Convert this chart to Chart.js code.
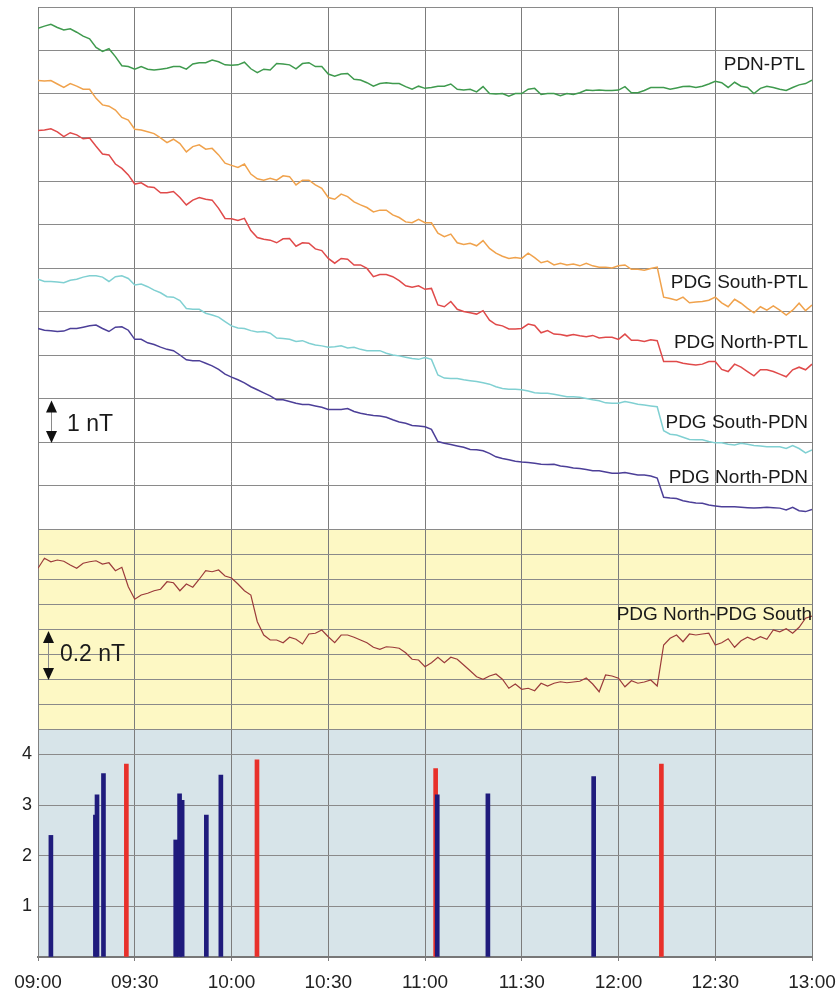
<!DOCTYPE html>
<html><head><meta charset="utf-8">
<script src="https://cdn.jsdelivr.net/npm/chart.js@4/dist/chart.umd.min.js"></script>
<style>html,body{margin:0;padding:0;background:#fff;}canvas{display:block;}</style>
</head><body>
<canvas id="c" width="840" height="992"></canvas>
<script>
// minutes after 09:00
const minutes = [0,2,4,6,8,10,12,14,16,18,20,22,24,26,28,30,32,34,36,38,40,42,44,46,48,50,52,54,56,58,
60,62,64,66,68,70,72,74,76,78,80,82,84,86,88,90,92,94,96,98,100,102,104,106,108,110,112,114,116,118,
120,122,124,126,128,130,132,134,136,138,140,142,144,146,148,150,152,154,156,158,160,162,164,166,168,170,172,174,176,178,
180,182,184,186,188,190,192,194,196,198,200,202,204,206,208,210,212,214,216,218,220,222,224,226,228,230,232,234,236,238,240];
const timeLabels = ['09:00','09:30','10:00','10:30','11:00','11:30','12:00','12:30','13:00'];

const pdnPtl = [11.51,11.56,11.60,11.53,11.47,11.50,11.42,11.33,11.27,11.07,
10.98,11.04,10.86,10.65,10.63,10.57,10.63,10.57,10.55,10.57,
10.59,10.63,10.63,10.57,10.69,10.72,10.72,10.78,10.74,10.67,
10.66,10.67,10.73,10.58,10.49,10.57,10.55,10.70,10.69,10.67,
10.58,10.70,10.72,10.63,10.63,10.46,10.41,10.46,10.47,10.34,
10.32,10.26,10.18,10.24,10.26,10.24,10.24,10.17,10.11,10.18,
10.13,10.15,10.18,10.18,10.23,10.11,10.09,10.11,10.05,10.17,
10.01,10.00,10.01,9.95,10.01,10.01,10.11,10.13,9.99,10.01,
10.01,9.96,10.01,9.99,10.03,10.09,10.08,10.09,10.08,10.08,
10.09,10.17,10.03,10.03,10.08,10.15,10.15,10.15,10.11,10.14,
10.17,10.18,10.15,10.18,10.23,10.29,10.26,10.15,10.27,10.18,
10.15,10.01,10.13,10.18,10.15,10.11,10.08,10.15,10.21,10.24,
10.32];
const pdgSouthPtl = [10.31,10.30,10.31,10.23,10.15,10.24,10.18,10.11,10.11,9.90,
9.75,9.72,9.63,9.46,9.40,9.19,9.17,9.13,9.09,8.99,
8.88,8.96,8.86,8.67,8.79,8.83,8.73,8.75,8.60,8.41,
8.36,8.31,8.39,8.16,8.05,8.02,8.06,8.02,8.12,8.10,
7.91,8.02,8.02,7.91,7.83,7.62,7.58,7.70,7.64,7.52,
7.45,7.39,7.29,7.33,7.33,7.22,7.16,7.06,7.04,7.12,
7.04,7.04,6.80,6.72,6.78,6.58,6.54,6.57,6.51,6.63,
6.45,6.34,6.27,6.22,6.24,6.22,6.34,6.24,6.12,6.16,
6.07,6.11,6.07,6.09,6.05,6.11,6.05,6.02,6.02,6.00,
6.05,6.07,5.97,5.97,5.95,5.99,6.02,5.33,5.30,5.26,
5.33,5.20,5.22,5.23,5.26,5.33,5.20,5.11,5.28,5.19,
5.07,4.97,5.11,5.03,5.13,5.03,4.92,5.03,5.19,5.02,
5.15];
const pdgNorthPtl = [9.16,9.17,9.20,9.13,9.02,9.11,9.06,8.97,8.99,8.80,
8.62,8.60,8.39,8.29,8.14,7.93,7.96,7.87,7.85,7.73,
7.73,7.76,7.62,7.45,7.56,7.62,7.58,7.56,7.37,7.14,
7.13,7.09,7.14,6.86,6.70,6.66,6.64,6.58,6.67,6.68,
6.50,6.58,6.57,6.44,6.40,6.22,6.11,6.22,6.20,6.07,
6.07,5.99,5.80,5.85,5.85,5.80,5.71,5.59,5.56,5.59,
5.51,5.53,5.15,5.11,5.23,5.05,5.00,4.97,4.94,5.02,
4.80,4.70,4.67,4.60,4.60,4.61,4.71,4.68,4.51,4.56,
4.48,4.47,4.44,4.47,4.44,4.42,4.45,4.39,4.41,4.41,
4.36,4.48,4.34,4.34,4.31,4.35,4.33,3.85,3.85,3.85,
3.81,3.79,3.77,3.79,3.85,3.85,3.67,3.62,3.79,3.72,
3.62,3.52,3.66,3.66,3.62,3.56,3.50,3.66,3.72,3.66,
3.79];
const pdgSouthPdn = [5.74,5.69,5.69,5.68,5.66,5.72,5.74,5.79,5.82,5.82,
5.79,5.69,5.80,5.82,5.76,5.61,5.63,5.57,5.49,5.43,
5.34,5.33,5.25,5.07,5.05,5.05,4.96,4.92,4.87,4.77,
4.67,4.62,4.61,4.56,4.53,4.54,4.50,4.39,4.38,4.36,
4.31,4.33,4.27,4.23,4.21,4.18,4.19,4.21,4.16,4.18,
4.13,4.10,4.10,4.10,4.04,4.00,3.98,3.95,3.92,3.90,
3.94,3.90,3.54,3.47,3.46,3.46,3.43,3.41,3.39,3.36,
3.33,3.27,3.23,3.21,3.21,3.20,3.17,3.13,3.12,3.12,
3.10,3.07,3.04,3.04,3.03,3.00,2.97,2.95,2.90,2.89,
2.89,2.93,2.90,2.87,2.85,2.83,2.81,2.26,2.18,2.16,
2.11,2.06,2.05,2.05,2.01,1.98,1.98,1.95,1.93,1.97,
1.95,1.92,1.91,1.89,1.89,1.89,1.85,1.92,1.85,1.75,
1.82];
const pdgNorthPdn = [4.61,4.57,4.56,4.54,4.55,4.61,4.61,4.64,4.67,4.69,
4.61,4.54,4.64,4.65,4.57,4.36,4.36,4.28,4.24,4.18,
4.13,4.10,4.00,3.89,3.87,3.87,3.81,3.75,3.67,3.56,
3.49,3.43,3.36,3.27,3.20,3.13,3.06,2.97,2.97,2.93,
2.89,2.86,2.86,2.83,2.80,2.75,2.75,2.75,2.77,2.70,
2.66,2.63,2.61,2.60,2.57,2.51,2.46,2.43,2.38,2.37,
2.35,2.29,2.01,1.97,1.94,1.91,1.88,1.83,1.82,1.80,
1.74,1.66,1.62,1.59,1.56,1.54,1.53,1.51,1.49,1.48,
1.49,1.45,1.43,1.40,1.39,1.37,1.34,1.34,1.31,1.28,
1.28,1.30,1.27,1.24,1.24,1.22,1.17,0.73,0.71,0.70,
0.65,0.62,0.60,0.59,0.55,0.53,0.51,0.51,0.51,0.50,
0.49,0.48,0.49,0.50,0.49,0.48,0.44,0.50,0.42,0.40,
0.45];
const pdgNorthPdgSouth = [0.643,0.683,0.669,0.676,0.671,0.656,0.643,0.663,0.669,0.673,
0.660,0.665,0.633,0.647,0.569,0.519,0.536,0.543,0.553,0.559,
0.589,0.585,0.553,0.580,0.567,0.599,0.633,0.629,0.636,0.612,
0.604,0.580,0.553,0.536,0.429,0.376,0.356,0.356,0.345,0.367,
0.359,0.340,0.380,0.383,0.396,0.369,0.345,0.376,0.376,0.367,
0.356,0.345,0.327,0.319,0.329,0.327,0.323,0.305,0.279,0.276,
0.249,0.265,0.287,0.265,0.287,0.279,0.256,0.233,0.209,0.199,
0.212,0.220,0.199,0.163,0.180,0.159,0.163,0.153,0.183,0.172,
0.183,0.189,0.185,0.188,0.191,0.204,0.180,0.149,0.216,0.212,
0.203,0.169,0.193,0.183,0.188,0.196,0.172,0.336,0.363,0.376,
0.349,0.380,0.376,0.380,0.383,0.336,0.345,0.361,0.327,0.353,
0.367,0.356,0.369,0.359,0.396,0.389,0.401,0.383,0.407,0.443,
0.452];

// event bars (bottom panel)
const blueBarTimes  = [4.0, 17.8, 18.3, 20.3, 42.7, 43.9, 44.7, 52.2, 56.7, 123.8, 139.5, 172.3];
const blueBarValues = [2.4, 2.8, 3.2, 3.62, 2.31, 3.22, 3.09, 2.8, 3.59, 3.2, 3.22, 3.56];
const redBarTimes   = [27.4, 67.9, 123.3, 193.3];
const redBarValues  = [3.81, 3.89, 3.72, 3.81];

const FONT = '"Liberation Sans", Arial, Helvetica, sans-serif';

function line(label, vals, color, axis, w) {
  return { type:'line', label, data: minutes.map((m,i)=>({x:m, y:vals[i]})),
    borderColor: color, borderWidth: w, pointRadius: 0, tension: 0,
    xAxisID:'x', yAxisID: axis };
}
function bars(label, ts, vs, color) {
  return { type:'bar', label, data: ts.map((t,i)=>({x:t, y:vs[i]})),
    backgroundColor: color, barThickness: 4, grouped: false,
    xAxisID:'x', yAxisID:'y3' };
}

const panelBg = {
  id:'panelBg',
  beforeDraw(chart, args, opts) {
    const {ctx, chartArea, scales} = chart;
    ctx.save();
    opts.fills.forEach(f => {
      const s = scales[f.axis];
      ctx.fillStyle = f.color;
      ctx.fillRect(chartArea.left, s.top, chartArea.right - chartArea.left, s.bottom - s.top);
    });
    ctx.restore();
  }
};

function arrowHead(ctx, x, y, dir) {
  ctx.beginPath();
  ctx.moveTo(x, y);
  ctx.lineTo(x - 5.5, y + dir * 12);
  ctx.lineTo(x + 5.5, y + dir * 12);
  ctx.closePath();
  ctx.fill();
}

const annot = {
  id:'annot',
  afterDatasetsDraw(chart, args, opts) {
    const {ctx, scales} = chart;
    const xs = scales.x;
    ctx.save();
    ctx.fillStyle = '#1a1a1a';
    ctx.textBaseline = 'middle';
    ctx.textAlign = 'right';
    ctx.font = '19px ' + FONT;
    opts.labels.forEach(l => {
      ctx.fillText(l.text, xs.right - l.dx, scales[l.axis].getPixelForValue(l.v));
    });
    opts.arrows.forEach(a => {
      const s = scales[a.axis];
      const x = Math.round(xs.getPixelForValue(a.t)) + 0.5;
      const y1 = s.getPixelForValue(a.hi), y2 = s.getPixelForValue(a.lo);
      ctx.strokeStyle = '#8a8a8a'; ctx.lineWidth = 1;
      ctx.beginPath(); ctx.moveTo(x, y1 + 10); ctx.lineTo(x, y2 - 10); ctx.stroke();
      ctx.fillStyle = '#111';
      arrowHead(ctx, x, y1 + 2, 1);
      arrowHead(ctx, x, y2 + 1, -1);
      ctx.fillStyle = '#1a1a1a';
      ctx.textAlign = 'left';
      ctx.font = '23px ' + FONT;
      ctx.fillText(a.text, xs.getPixelForValue(a.tt), (y1 + y2) / 2 + a.dy);
    });
    ctx.restore();
  }
};

const gridCol = '#8a8a8a';
function yAxis(min, max, step, weight, sw, extra) {
  return Object.assign({
    type:'linear', position:'left', stack:'panels', stackWeight: sw, weight,
    min, max, offset:false,
    afterFit(s){ s.width = 38; s.paddingTop = 0; s.paddingBottom = 0; },
    ticks:{ display:false, stepSize: step },
    grid:{ color: gridCol, lineWidth:1, drawTicks:false },
    border:{ display:true, color:'#808080', width:1 }
  }, extra || {});
}

new Chart(document.getElementById('c'), {
  type:'line',
  data:{ datasets:[
    line('PDN-PTL', pdnPtl, '#3f9a4e', 'y', 1.5),
    line('PDG South-PTL', pdgSouthPtl, '#f0a24c', 'y', 1.5),
    line('PDG North-PTL', pdgNorthPtl, '#e04a4a', 'y', 1.5),
    line('PDG South-PDN', pdgSouthPdn, '#80d0d2', 'y', 1.5),
    line('PDG North-PDN', pdgNorthPdn, '#4c3f98', 'y', 1.5),
    line('PDG North-PDG South', pdgNorthPdgSouth, '#9b3b3b', 'y2', 1.2),
    bars('blue', blueBarTimes, blueBarValues, '#1f1b7c'),
    bars('red', redBarTimes, redBarValues, '#e8302a')
  ]},
  options:{
    responsive:false, animation:false, devicePixelRatio:1,
    layout:{ padding:{ top:7, right:28, bottom:0, left:0 } },
    plugins:{
      legend:{display:false}, tooltip:{enabled:false},
      panelBg:{ fills:[ {axis:'y', color:'#ffffff'}, {axis:'y2', color:'#fdf8c4'}, {axis:'y3', color:'#d7e4e9'} ] },
      annot:{
        labels:[
          {text:'PDN-PTL', axis:'y', v:10.67, dx:7},
          {text:'PDG South-PTL', axis:'y', v:5.66, dx:4},
          {text:'PDG North-PTL', axis:'y', v:4.28, dx:4},
          {text:'PDG South-PDN', axis:'y', v:2.44, dx:4},
          {text:'PDG North-PDN', axis:'y', v:1.17, dx:4},
          {text:'PDG North-PDG South', axis:'y2', v:0.456, dx:0}
        ],
        arrows:[
          {axis:'y', t:4.0, hi:3, lo:2, text:'1 nT', tt:9.0, dy:4},
          {axis:'y2', t:3.1, hi:0.4, lo:0.2, text:'0.2 nT', tt:6.8, dy:1}
        ]
      }
    },
    scales:{
      x:{
        type:'linear', position:'bottom', min:0, max:240, offset:false,
        afterFit(s){ s.height = 35; s.paddingLeft = 0; s.paddingRight = 0; },
        ticks:{ stepSize:30, autoSkip:false, maxRotation:0, padding:10, color:'#222',
          font:{family:FONT, size:19}, callback:(v)=> timeLabels[Math.round(v/30)] },
        grid:{ offset:false, color:'#7c7c7c', lineWidth:1, drawTicks:true, tickLength:4, tickColor:'#7c7c7c' },
        border:{ display:true, color:'#777', width:2 }
      },
      y: yAxis(0, 12, 1, 3, 522),
      y2: yAxis(0, 0.8, 0.1, 2, 200),
      y3: yAxis(0, 4.5, 0.5, 1, 228, {
        ticks:{ display:true, stepSize:0.5, padding:6, color:'#222', font:{family:FONT, size:18},
          callback:(v)=> (v > 0 && Math.abs(v - Math.round(v)) < 1e-6) ? String(Math.round(v)) : '' }
      })
    }
  },
  plugins:[panelBg, annot]
});
</script>
</body></html>
